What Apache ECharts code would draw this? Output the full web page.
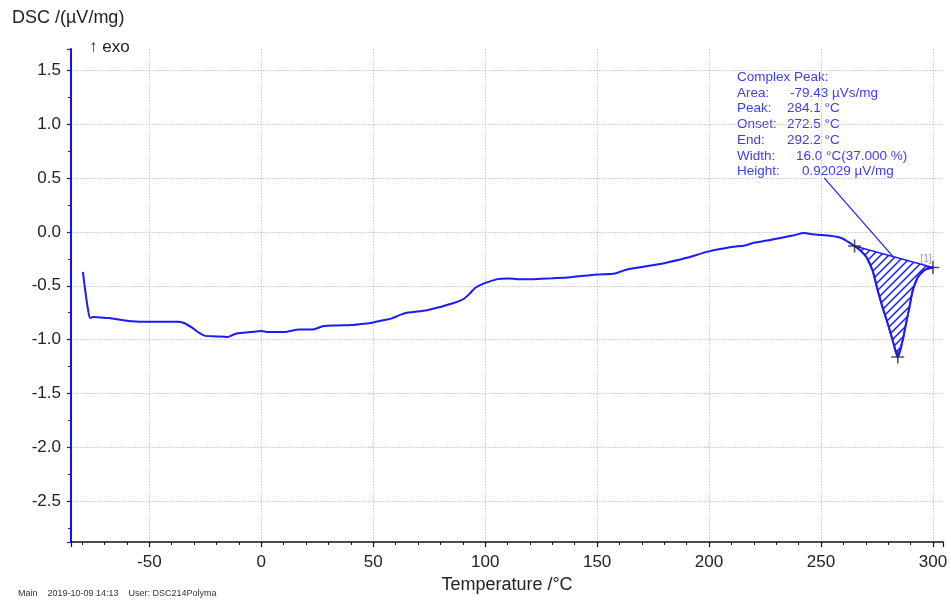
<!DOCTYPE html>
<html>
<head>
<meta charset="utf-8">
<script src="https://cdn.jsdelivr.net/npm/echarts@6/dist/echarts.min.js"></script>
<style>
html, body { margin: 0; padding: 0; background: #fff; }
#chart { width: 951px; height: 600px; }
</style>
</head>
<body>
<div id="chart"></div>
<script>
// DSC heating curve, temperature in °C
const temperature = [
  -79.7, -78.6, -77.4, -76.4, -75.2, -72.0, -68.0, -63.0, -58.0, -50.0,
  -44.0, -37.0, -34.0, -30.5, -27.5, -25.0, -20.0, -15.2, -12.5, -10.5,
  -5.0, 0.0, 3.0, 10.0, 17.0, 23.0, 27.5, 34.0, 40.0, 46.0,
  50.0, 54.5, 58.0, 62.0, 65.0, 68.0, 74.0, 80.0, 86.0, 88.5,
  90.5, 93.0, 95.5, 99.5, 105.5, 110.0, 114.5, 120.0, 125.0, 130.0,
  138.0, 150.0, 158.0, 163.0, 170.0, 180.0, 190.0, 200.0, 210.0, 216.0,
  220.0, 226.0, 232.0, 238.0, 242.5, 246.0, 250.0, 254.0, 257.5, 260.0,
  262.0, 265.0, 267.5, 270.2, 273.0, 275.3, 277.5, 279.8, 282.0, 284.3,
  286.5, 288.0, 289.5, 291.0, 293.3, 296.2, 300.0
];
// DSC signal in µV/mg
const dsc = [
  -0.37, -0.55, -0.72, -0.80, -0.79, -0.795, -0.80, -0.815, -0.83, -0.835,
  -0.835, -0.835, -0.85, -0.895, -0.94, -0.965, -0.97, -0.975, -0.955, -0.94,
  -0.93, -0.92, -0.93, -0.93, -0.905, -0.905, -0.875, -0.868, -0.865, -0.852,
  -0.84, -0.82, -0.805, -0.77, -0.75, -0.743, -0.727, -0.696, -0.66, -0.64,
  -0.62, -0.575, -0.52, -0.478, -0.438, -0.432, -0.438, -0.44, -0.435, -0.43,
  -0.42, -0.395, -0.385, -0.35, -0.325, -0.29, -0.24, -0.18, -0.14, -0.125,
  -0.10, -0.08, -0.055, -0.03, -0.01, -0.02, -0.028, -0.035, -0.047, -0.065,
  -0.09, -0.13, -0.17, -0.23, -0.354, -0.54, -0.70, -0.85, -1.006, -1.162,
  -1.006, -0.85, -0.70, -0.54, -0.417, -0.354, -0.33
];

// characteristic points of the evaluated peak: start, peak, end
const markT = [265.0, 284.3, 300.0];
const markV = [-0.13, -1.162, -0.33];

// leader line from the result block down to the peak baseline
const leaderT = [251.5, 282.2];
const leaderV = [0.50, -0.228];

// peak evaluation results
const resultTitle = 'Complex Peak:';
const resultLabels = ['Area:', 'Peak:', 'Onset:', 'End:', 'Width:', 'Height:'];
const resultValues = ['-79.43 µVs/mg', '284.1 °C', '272.5 °C', '292.2 °C', '16.0 °C(37.000 %)', '0.92029 µV/mg'];

const yAxisTitle = 'DSC /(µV/mg)';
const xAxisTitle = 'Temperature /°C';
const exoLabel = '↑ exo';
const footerText = 'Main    2019-10-09 14:13    User: DSC214Polyma';

// ---- styling / layout ----
const FONT = '"Liberation Sans", Arial, Helvetica, sans-serif';
const CURVE = '#1a1aff';
const NOTE = '#3c3cf0';
const GRID_LINE = { color: '#c4c4c4', type: [1.5, 1.5], width: 1 };
const valueX = [790, 787, 787, 787, 796, 802];

function hatchCanvas() {
  const c = document.createElement('canvas');
  c.width = 8; c.height = 8;
  const g = c.getContext('2d');
  g.strokeStyle = CURVE;
  g.lineWidth = 1.5;
  g.beginPath();
  g.moveTo(0, 8); g.lineTo(8, 0);
  g.moveTo(-4, 4); g.lineTo(4, -4);
  g.moveTo(4, 12); g.lineTo(12, 4);
  g.stroke();
  return c;
}
const hatch = hatchCanvas();

const curveData = temperature.map((t, i) => [t, dsc[i]]);
const leaderData = leaderT.map((t, i) => [t, leaderV[i]]);
const markData = markT.map((t, i) => {
  const item = { value: [t, markV[i]] };
  if (i === 2) {
    item.label = {
      show: true, formatter: '[1]', position: [-6, -7],
      fontSize: 10, color: '#7070ff', fontFamily: FONT
    };
  }
  return item;
});

const graphics = [
  { type: 'text', left: 12, top: 9, style: { text: yAxisTitle, font: '18px ' + FONT, fill: '#222' } },
  { type: 'text', left: 89, top: 39, style: { text: exoLabel, font: '17px ' + FONT, fill: '#222' } },
  { type: 'text', left: 18, top: 589, style: { text: footerText, font: '9px ' + FONT, fill: '#333' } },
  { type: 'text', left: 737, top: 70, style: { text: resultTitle, font: '13.5px ' + FONT, fill: NOTE } }
];
resultLabels.forEach((lab, i) => {
  const top = 86 + i * 15.7;
  graphics.push({ type: 'text', left: 737, top: top, style: { text: lab, font: '13.5px ' + FONT, fill: NOTE } });
  graphics.push({ type: 'text', left: valueX[i], top: top, style: { text: resultValues[i], font: '13.5px ' + FONT, fill: NOTE } });
});

const chart = echarts.init(document.getElementById('chart'), null, { renderer: 'canvas' });
chart.setOption({
  animation: false,
  backgroundColor: '#fff',
  grid: { left: 71, right: 8, top: 49, bottom: 58, containLabel: false },
  xAxis: {
    type: 'value',
    min: -85, max: 304.5,
    minInterval: 50, maxInterval: 50,
    name: xAxisTitle,
    nameLocation: 'middle',
    nameGap: 26,
    nameTextStyle: { fontSize: 18, color: '#222', fontFamily: FONT },
    axisLine: { show: true, onZero: false, lineStyle: { color: '#111', width: 1.5 } },
    axisTick: { show: true, length: 5, lineStyle: { color: '#111', width: 1.2 } },
    minorTick: { show: true, splitNumber: 5, length: 3, lineStyle: { color: '#111', width: 1 } },
    axisLabel: { fontSize: 17, color: '#222', fontFamily: FONT, margin: 12, showMinLabel: false, showMaxLabel: false },
    splitLine: { show: true, showMinLine: false, showMaxLine: false, lineStyle: GRID_LINE }
  },
  yAxis: {
    type: 'value',
    min: -2.88, max: 1.7,
    minInterval: 0.5, maxInterval: 0.5,
    axisLine: { show: true, onZero: false, lineStyle: { color: '#1010ff', width: 2 } },
    axisTick: { show: true, length: 4, lineStyle: { color: '#1010ff', width: 1.2 } },
    minorTick: { show: true, splitNumber: 2, length: 3, lineStyle: { color: '#1010ff', width: 1 } },
    axisLabel: {
      fontSize: 17, color: '#222', fontFamily: FONT, margin: 10,
      showMinLabel: false, showMaxLabel: false,
      formatter: v => v.toFixed(1)
    },
    splitLine: { show: true, showMinLine: false, showMaxLine: false, lineStyle: GRID_LINE }
  },
  graphic: graphics,
  series: [
    {
      // hatched peak area between the curve and the straight baseline
      type: 'custom',
      coordinateSystem: 'cartesian2d',
      silent: true,
      z: 1,
      data: [[markT[0], markV[0]]],
      renderItem: function (params, api) {
        const pts = [];
        for (let i = 0; i < temperature.length; i++) {
          if (temperature[i] >= markT[0] && temperature[i] <= markT[2]) {
            pts.push(api.coord([temperature[i], dsc[i]]));
          }
        }
        return {
          type: 'polygon',
          shape: { points: pts },
          style: { fill: { image: hatch, repeat: 'repeat' }, stroke: CURVE, lineWidth: 1.6 }
        };
      }
    },
    {
      type: 'line',
      data: curveData,
      showSymbol: false,
      smooth: 0.3,
      lineStyle: { color: CURVE, width: 2 },
      z: 3
    },
    {
      type: 'line',
      data: leaderData,
      showSymbol: false,
      lineStyle: { color: CURVE, width: 1.2 },
      z: 2
    },
    {
      type: 'scatter',
      data: markData,
      symbol: 'path://M4.4,0h1.2v10h-1.2z M0,4.4h10v1.2h-10z',
      symbolSize: 13,
      itemStyle: { color: '#2a2a2a' },
      z: 4
    }
  ]
});
</script>
</body>
</html>
